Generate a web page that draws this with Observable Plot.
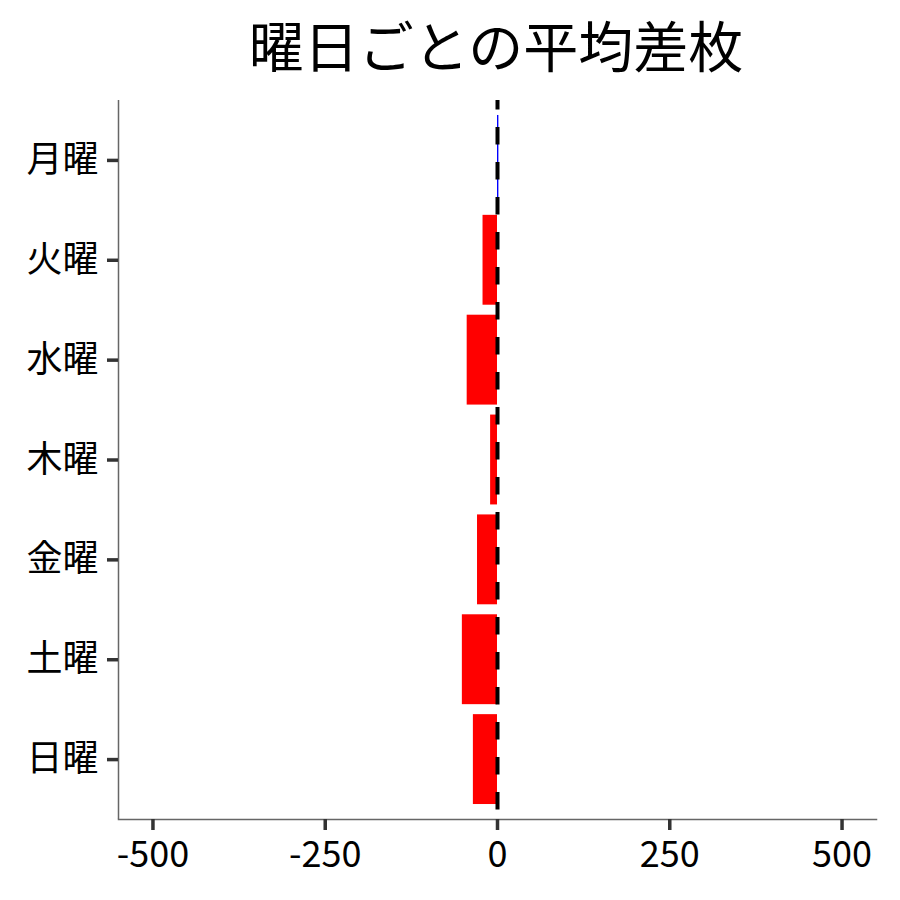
<!DOCTYPE html>
<html>
<head>
<meta charset="utf-8">
<script src="https://cdn.jsdelivr.net/npm/d3@7"></script>
<script src="https://cdn.jsdelivr.net/npm/@observablehq/plot@0.6"></script>
<style>
  html, body { margin: 0; padding: 0; background: #fff; }
  #wrap { width: 900px; position: relative; }
  #title {
    height: 88px; width: 900px; margin: 0; padding: 0;
    font-family: 'Noto Sans CJK JP', 'Noto Sans', sans-serif;
    font-size: 55px; font-weight: 400; line-height: 88px; color: #000;
    position: relative;
  }
  #title span { position: absolute; left: 496px; top: -1px; transform: translateX(-50%); white-space: nowrap; }
  #chart svg { display: block; }
  #chart svg g[aria-label="y-axis tick"] path, #chart svg g[aria-label="x-axis tick"] path { stroke-width: 3.5px; stroke: #333; }
</style>
</head>
<body>
<div id="wrap">
  <div id="title"><span></span></div>
  <div id="chart"></div>
</div>
<script>
const days = ["月曜", "火曜", "水曜", "木曜", "金曜", "土曜", "日曜"];
const avgDiff = [2, -21, -44, -10, -29, -51, -35];
const xTicks = [-500, -250, 0, 250, 500];
const title = "曜日ごとの平均差枚";

const data = days.map((d, i) => ({day: d, value: avgDiff[i]}));
const FONT = "'Noto Sans CJK JP', 'Noto Sans', sans-serif";

document.querySelector("#title span").textContent = title;

const chart = Plot.plot({
  width: 900,
  height: 812,
  marginTop: 12,
  marginBottom: 81,
  marginLeft: 118,
  marginRight: 24,
  style: {fontFamily: FONT, background: "#fff", color: "#000"},
  x: {domain: [-550, 550]},
  y: {domain: days, paddingInner: 0.1, paddingOuter: 0.15, round: false},
  marks: [
    Plot.barX(data, {
      y: "day", x: "value",
      fill: d => d.value >= 0 ? "#0000FF" : "#FF0000"
    }),
    Plot.ruleX([0], {stroke: "#000", strokeWidth: 4, strokeDasharray: "17.5,17.5", strokeDashoffset: 8}),
    Plot.ruleX([-550], {stroke: "#666", strokeWidth: 1.5}),
    Plot.frame({anchor: "bottom", stroke: "#666", strokeWidth: 1.5}),
    Plot.axisY({
      label: null, tickSize: 11, tickPadding: 9, stroke: "#333", strokeWidth: 3.5,
      fontSize: 36, fill: "#000"
    }),
    Plot.axisX({
      ticks: xTicks, tickFormat: d => `${d}`, label: null, tickSize: 11, tickPadding: 11,
      stroke: "#333", strokeWidth: 3.5, fontSize: 36, fill: "#000"
    })
  ]
});
document.getElementById("chart").append(chart);
</script>
</body>
</html>
